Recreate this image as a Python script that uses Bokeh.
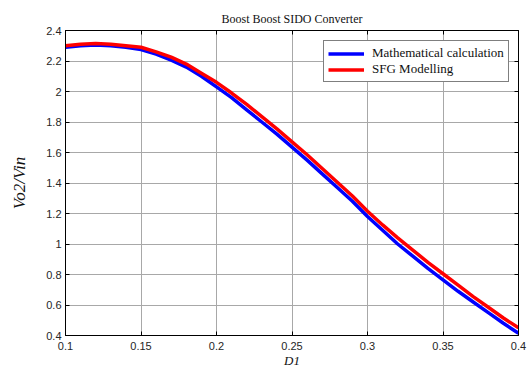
from bokeh.plotting import figure
from bokeh.models import FixedTicker, LinearAxis, Range1d, Legend, LegendItem, Title
from bokeh.embed import file_html
from bokeh.resources import INLINE

# Duty cycle D1 and normalised output voltage Vo2/Vin
d1 = [0.10, 0.11, 0.12, 0.13, 0.14, 0.15, 0.16, 0.17, 0.18, 0.19, 0.20,
      0.21, 0.22, 0.23, 0.24, 0.25, 0.26, 0.27, 0.28, 0.29, 0.30,
      0.31, 0.32, 0.33, 0.34, 0.35, 0.36, 0.37, 0.38, 0.39, 0.40]
math_calc = [2.29, 2.30, 2.305, 2.30, 2.29, 2.275, 2.245, 2.205, 2.16, 2.10, 2.03,
             1.96, 1.88, 1.80, 1.72, 1.635, 1.55, 1.46, 1.37, 1.28, 1.18,
             1.09, 1.00, 0.92, 0.84, 0.765, 0.69, 0.62, 0.55, 0.48, 0.415]
sfg_model = [2.30, 2.31, 2.315, 2.31, 2.30, 2.29, 2.26, 2.225, 2.18, 2.12, 2.06,
             1.99, 1.915, 1.835, 1.755, 1.67, 1.585, 1.495, 1.405, 1.315, 1.215,
             1.125, 1.04, 0.96, 0.88, 0.805, 0.73, 0.655, 0.585, 0.515, 0.45]

x_ticks = [0.1, 0.15, 0.2, 0.25, 0.3, 0.35, 0.4]
x_tick_labels = ["0.1", "0.15", "0.2", "0.25", "0.3", "0.35", "0.4"]
y_ticks = [0.4, 0.6, 0.8, 1.0, 1.2, 1.4, 1.6, 1.8, 2.0, 2.2, 2.4]
y_tick_labels = ["0.4", "0.6", "0.8", "1", "1.2", "1.4", "1.6", "1.8", "2", "2.2", "2.4"]

SERIF = "Liberation Serif"
SANS = "Liberation Sans"

p = figure(width=527, height=370, output_backend="svg", toolbar_location=None,
           x_range=Range1d(0.1, 0.4), y_range=Range1d(0.4, 2.4),
           min_border_left=65, min_border_right=9, min_border_top=30, min_border_bottom=34)
p.title = Title(text="Boost Boost SIDO Converter", align="center",
                text_font=SERIF, text_font_size="12px", text_font_style="normal",
                text_color="#111111", offset=0, standoff=10)
p.outline_line_color = "black"
p.outline_line_width = 1
p.background_fill_color = "white"
p.border_fill_color = "white"

def style_axis(ax, ticks, labels, show_labels=True):
    ax.ticker = FixedTicker(ticks=ticks)
    if show_labels:
        ax.major_label_overrides = {t: l for t, l in zip(ticks, labels)}
    else:
        # mirrored box axis: tick marks only
        ax.major_label_overrides = {t: "" for t in ticks}
        ax.major_label_standoff = 0
    ax.major_tick_in = 4
    ax.major_tick_out = 0
    ax.minor_tick_in = 0
    ax.minor_tick_out = 0
    ax.axis_line_color = "black"
    ax.major_tick_line_color = "black"
    ax.major_label_text_font = SANS
    ax.major_label_text_font_size = "11px"
    ax.major_label_text_color = "#262626"

style_axis(p.xaxis[0], x_ticks, x_tick_labels)
style_axis(p.yaxis[0], y_ticks, y_tick_labels)
p.xaxis[0].major_label_standoff = 6
p.yaxis[0].major_label_standoff = 4

p.xaxis[0].axis_label = "D1"
p.yaxis[0].axis_label = "Vo2/Vin"
for ax in (p.xaxis[0], p.yaxis[0]):
    ax.axis_label_text_font = SERIF
    ax.axis_label_text_font_style = "italic"
    ax.axis_label_text_color = "#111111"
p.xaxis[0].axis_label_text_font_size = "13px"
p.xaxis[0].axis_label_standoff = 0
p.yaxis[0].axis_label_text_font_size = "17px"
p.yaxis[0].axis_label_standoff = 14

top_axis = LinearAxis()
right_axis = LinearAxis()
style_axis(top_axis, x_ticks, x_tick_labels, show_labels=False)
style_axis(right_axis, y_ticks, y_tick_labels, show_labels=False)
p.add_layout(top_axis, "above")
p.add_layout(right_axis, "right")

p.xgrid.ticker = FixedTicker(ticks=x_ticks)
p.ygrid.ticker = FixedTicker(ticks=y_ticks)
for g in (p.xgrid[0], p.ygrid[0]):
    g.grid_line_color = "#a8a8a8"
    g.grid_line_width = 1

r_math = p.line(d1, math_calc, line_color="#0000ff", line_width=3.5)
r_sfg = p.line(d1, sfg_model, line_color="#ff0000", line_width=3.5)

legend = Legend(items=[LegendItem(label="Mathematical calculation", renderers=[r_math]),
                       LegendItem(label="SFG Modelling", renderers=[r_sfg])],
                location=(258, 253))
legend.label_text_font = SERIF
legend.label_text_font_size = "13px"
legend.label_text_color = "#111111"
legend.glyph_width = 36
legend.glyph_height = 13
legend.label_height = 13
legend.label_standoff = 8
legend.spacing = 0
legend.padding = 4
legend.margin = 0
legend.border_line_color = "black"
legend.border_line_width = 1.5
legend.background_fill_color = "white"
legend.background_fill_alpha = 1
p.add_layout(legend, "center")

open("out.html", "w").write(file_html(p, INLINE))
